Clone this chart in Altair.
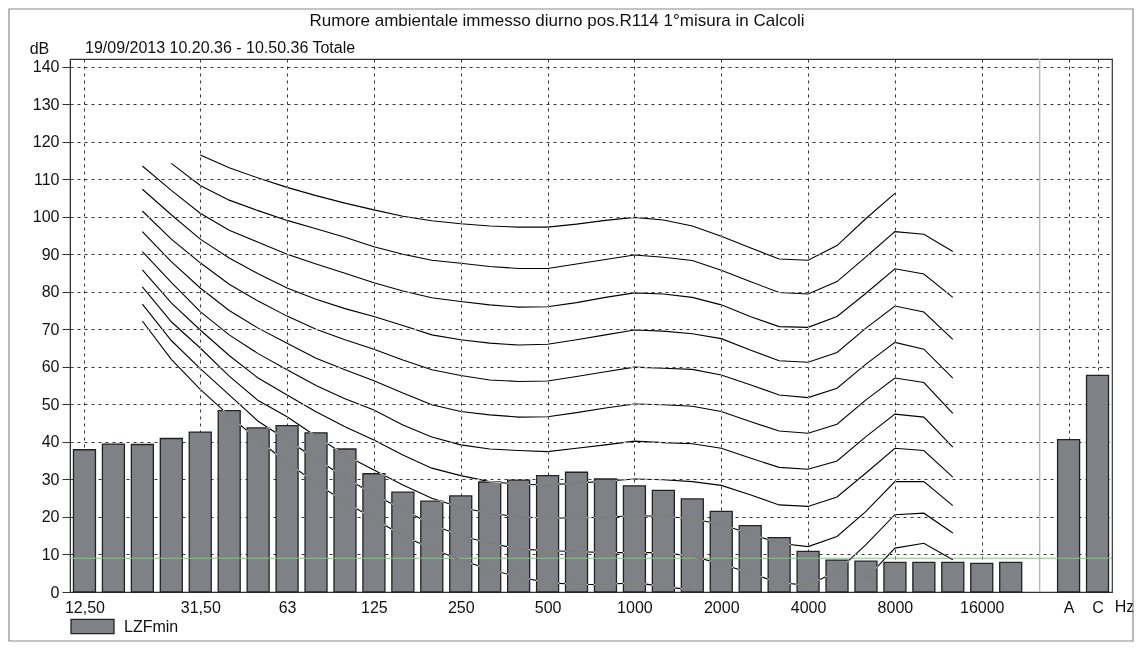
import altair as alt
import pandas as pd

title_text = "Rumore ambientale immesso diurno pos.R114 1°misura in Calcoli"
subtitle_text = "19/09/2013 10.20.36 - 10.50.36  Totale"
series_name = "LZFmin"

bands = ["12.5", "16", "20", "25", "31.5", "40", "50", "63", "80", "100", "125",
         "160", "200", "250", "315", "400", "500", "630", "800", "1000", "1250",
         "1600", "2000", "2500", "3150", "4000", "5000", "6300", "8000", "10000",
         "12500", "16000", "20000"]
lzf_min = [37.9, 39.4, 39.3, 40.9, 42.6, 48.3, 43.7, 44.3, 42.4, 38.1, 31.5,
           26.6, 24.2, 25.6, 29.3, 29.8, 31.0, 31.9, 30.1, 28.3, 27.1, 24.8,
           21.5, 17.7, 14.5, 10.8, 8.5, 8.2, 7.9, 7.9, 7.9, 7.6, 7.9]
overall_labels = ["A", "C"]
overall_values = [40.6, 57.7]

label_bands = ["12.5", "31.5", "63", "125", "250", "500", "1000", "2000", "4000", "8000", "16000"]
label_texts = ["12,50", "31,50", "63", "125", "250", "500", "1000", "2000", "4000", "8000", "16000"]

# curves from 20 Hz to 12500 Hz
curve_bands = bands[2:31]
phon_levels = [100, 90, 80, 70, 60, 50, 40, 30, 20, 10, 0]
p100 = [None, None, 116.4, 113.0, 110.3, 107.8, 105.6, 103.6, 101.8, 100.1, 98.9, 98.1, 97.5, 97.2, 97.2, 98.0, 99.0, 99.8, 99.1, 97.5, 94.8, 91.7, 88.7, 88.4, 92.3, 99.5, 106.2, None, None]
p90 = [None, 114.2, 108.3, 104.4, 101.6, 99.0, 96.8, 94.5, 92.0, 90.0, 88.4, 87.6, 86.7, 86.2, 86.2, 87.4, 88.6, 89.8, 89.2, 88.3, 85.7, 82.7, 79.8, 79.4, 82.7, 89.3, 96.0, 95.3, 90.7]
p80 = [113.5, 107.0, 100.9, 96.4, 93.2, 90.0, 87.4, 84.9, 82.4, 80.2, 78.4, 77.4, 76.5, 75.9, 76.0, 77.1, 78.5, 79.7, 79.4, 78.5, 76.5, 73.4, 70.7, 70.5, 73.4, 79.6, 86.1, 84.7, 78.5]
p70 = [107.3, 100.5, 94.0, 89.0, 84.8, 81.0, 78.0, 75.5, 73.4, 71.0, 68.5, 67.2, 66.3, 65.8, 66.0, 67.2, 68.5, 69.8, 69.5, 68.8, 67.5, 64.5, 61.6, 61.2, 63.8, 70.3, 76.2, 74.6, 67.3]
p60 = [101.5, 94.0, 87.7, 82.0, 77.5, 73.5, 70.0, 67.2, 64.7, 61.8, 59.2, 57.7, 56.5, 56.1, 56.2, 57.4, 58.7, 59.9, 59.6, 59.3, 57.8, 55.2, 52.5, 51.8, 54.3, 60.7, 66.5, 64.7, 57.0]
p50 = [96.0, 88.0, 81.0, 75.0, 70.3, 66.3, 62.3, 59.2, 56.3, 53.0, 49.9, 48.1, 47.2, 46.6, 46.7, 47.8, 49.0, 50.1, 49.9, 49.5, 48.1, 45.4, 42.9, 42.3, 44.7, 51.2, 57.0, 55.8, 47.6]
p40 = [90.7, 82.5, 74.7, 68.5, 63.5, 59.2, 55.0, 51.5, 48.5, 44.5, 41.3, 39.2, 38.1, 37.7, 37.4, 38.3, 39.2, 40.2, 39.8, 39.5, 38.3, 35.7, 33.2, 32.7, 34.9, 41.4, 47.4, 46.6, 38.6]
p30 = [85.8, 77.0, 69.8, 63.0, 57.0, 52.5, 48.0, 44.0, 40.5, 36.5, 33.0, 31.0, 29.4, 28.7, 28.5, 29.0, 29.5, 30.1, 29.9, 29.4, 28.4, 25.9, 23.2, 22.8, 25.3, 31.7, 38.3, 37.7, 30.6]
p20 = [81.3, 72.0, 65.0, 57.5, 51.0, 46.7, 41.5, 36.5, 32.5, 28.5, 25.0, 22.5, 21.0, 20.0, 19.7, 19.7, 20.0, 20.3, 20.2, 19.5, 18.0, 15.5, 13.0, 12.1, 14.8, 21.5, 29.4, 29.4, 23.0]
p10 = [76.7, 67.0, 59.5, 52.5, 45.5, 40.5, 35.5, 30.5, 26.0, 22.0, 18.0, 15.0, 13.0, 11.5, 11.0, 10.8, 10.5, 10.5, 10.5, 9.5, 7.5, 5.0, 2.5, 1.8, 5.5, 12.6, 20.6, 21.0, 15.7]
p0 = [72.2, 62.0, 54.0, 47.0, 40.5, 34.5, 29.0, 24.0, 19.5, 15.0, 11.5, 8.5, 6.0, 4.0, 2.5, 2.0, 2.0, 2.5, 1.5, 0.5, None, None, None, None, None, 3.5, 11.7, 13.0, 8.6]
curve_values = [p100, p90, p80, p70, p60, p50, p40, p30, p20, p10, p0]

green_level = 9

# ---- tables ----
bar_rows = [{"idx": i, "value": v, "series": series_name} for i, v in enumerate(lzf_min)]
for k, (lab, v) in enumerate(zip(overall_labels, overall_values)):
    bar_rows.append({"idx": len(bands) + 1 + k, "value": v, "series": series_name})
bars_df = pd.DataFrame(bar_rows)

line_rows = []
for level, vals in zip(phon_levels, curve_values):
    seg = 0
    for b, v in zip(curve_bands, vals):
        if v is None:
            seg += 1
            continue
        line_rows.append({"idx": bands.index(b), "value": v, "seg": f"{level}-{seg}"})
lines_df = pd.DataFrame(line_rows)

sep_df = pd.DataFrame({"idx": [len(bands)]})
green_df = pd.DataFrame({"value": [green_level]})

tick_pos = [bands.index(b) for b in label_bands] + [len(bands) + 1 + k for k in range(len(overall_labels))]
tick_txt = label_texts + overall_labels
label_expr = ""
for p, t in zip(tick_pos, tick_txt):
    label_expr += f"datum.value == {p} ? '{t}' : "
label_expr += "''"

FONT = "Liberation Sans"
FS = 16

x_scale = alt.Scale(domain=[-0.5, len(bands) + 2.5], nice=False, zero=False, padding=0)
y_scale = alt.Scale(domain=[0, 142], nice=False, zero=False, padding=0)

x_axis = alt.Axis(values=tick_pos, labelExpr=label_expr, grid=True, gridDash=[3, 4],
                  gridColor="#222", gridOpacity=0.9, ticks=False, tickSize=0, domain=True,
                  domainColor="#333", labelPadding=7, labelFontSize=FS, labelFont=FONT,
                  labelColor="#111", title="Hz", titleX=1054, titleY=14, titleAlign="center",
                  titleBaseline="middle", titleFontWeight="normal", titleFontSize=FS,
                  titleFont=FONT, titleColor="#111", labelFlush=False, labelOverlap=False)
y_axis = alt.Axis(values=list(range(0, 141, 10)), grid=True, gridDash=[3, 4], gridColor="#222",
                  gridOpacity=0.9, tickSize=8, tickColor="#333", domainColor="#333",
                  labelPadding=3, labelFontSize=FS, labelFont=FONT, labelColor="#111",
                  title="dB", titleAngle=0, titleX=-31, titleY=-11, titleAlign="center",
                  titleBaseline="middle", titleFontWeight="normal", titleFontSize=FS,
                  titleFont=FONT, titleColor="#111", labelFlush=False, labelOverlap=False)

frame = alt.Chart(pd.DataFrame({"k": [0]})).mark_rect(
    fill=None, stroke="#8a8a8a", strokeWidth=1.2
).encode(x=alt.value(-61), x2=alt.value(1063), y=alt.value(-50), y2=alt.value(582))

sep = alt.Chart(sep_df).mark_rule(color="#b8b8b8", strokeWidth=1.5).encode(
    x=alt.X("idx:Q", scale=x_scale, axis=x_axis)
)

bars = alt.Chart(bars_df).mark_bar(size=22, stroke="#222", strokeWidth=1.3).encode(
    x=alt.X("idx:Q", scale=x_scale, axis=x_axis),
    y=alt.Y("value:Q", scale=y_scale, axis=y_axis),
    color=alt.Color("series:N", scale=alt.Scale(range=["#7e8286"]),
                    legend=alt.Legend(orient="none", legendX=0, legendY=545, title=None,
                                      symbolType="M-1,-0.33H1V0.33H-1Z", symbolSize=1849,
                                      symbolStrokeColor="#222", symbolStrokeWidth=1.3,
                                      symbolOpacity=1, labelFontSize=FS, labelFont=FONT,
                                      labelColor="#111", labelOffset=9, padding=0)),
)

green = alt.Chart(green_df).mark_rule(color="#86c586", strokeWidth=1).encode(
    y=alt.Y("value:Q", scale=y_scale, axis=y_axis)
)

curves = alt.Chart(lines_df).mark_line(color="white", strokeWidth=1.1, blend="difference").encode(
    x=alt.X("idx:Q", scale=x_scale, axis=x_axis),
    y=alt.Y("value:Q", scale=y_scale, axis=y_axis),
    detail="seg:N",
)

title_mark = alt.Chart(pd.DataFrame({"t": [title_text]})).mark_text(
    align="center", baseline="middle", fontSize=17, font=FONT, color="#111"
).encode(x=alt.value(487), y=alt.value(-38), text="t:N")

subtitle = alt.Chart(pd.DataFrame({"t": [subtitle_text]})).mark_text(
    align="left", baseline="middle", fontSize=FS, font=FONT, color="#111"
).encode(x=alt.value(15), y=alt.value(-11), text="t:N")

chart = alt.layer(frame, sep, bars, green, curves, title_mark, subtitle).properties(
    width=1042, height=533,
    padding={"left": 62, "top": 51, "right": 22, "bottom": 50},
    autosize=alt.AutoSizeParams(type="none"),
).configure_view(stroke="#333", strokeWidth=1.2)

chart.save("out.html", embed_options={"renderer": "svg", "actions": False})
